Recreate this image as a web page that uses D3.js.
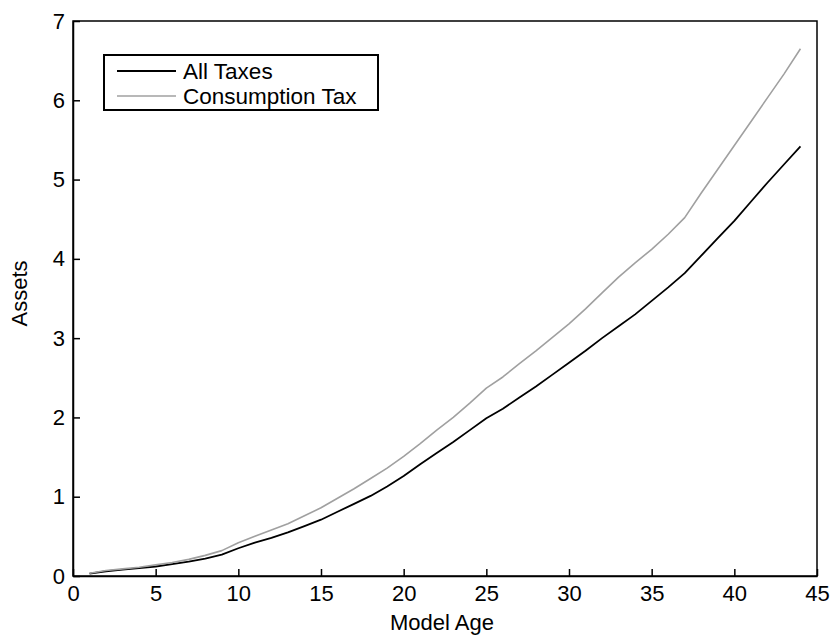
<!DOCTYPE html>
<html>
<head>
<meta charset="utf-8">
<script src="https://cdn.jsdelivr.net/npm/d3@7"></script>
<style>
  html, body { margin: 0; padding: 0; background: #fff; }
  svg { display: block; font-family: "Liberation Sans", Arial, Helvetica, sans-serif; }
</style>
</head>
<body>
<svg id="chart" width="834" height="637"></svg>
<script>
const ages = d3.range(1, 45);
const allTaxes = [0.03, 0.06, 0.08, 0.10, 0.12, 0.15, 0.18, 0.22, 0.27, 0.35,
  0.42, 0.48, 0.55, 0.63, 0.71, 0.81, 0.91, 1.01, 1.13, 1.26,
  1.41, 1.55, 1.69, 1.84, 1.99, 2.11, 2.25, 2.39, 2.54, 2.69,
  2.84, 3.00, 3.15, 3.30, 3.47, 3.64, 3.82, 4.04, 4.26, 4.48,
  4.72, 4.96, 5.19, 5.42];
const consumptionTax = [0.035, 0.07, 0.09, 0.11, 0.14, 0.17, 0.21, 0.26, 0.32, 0.42,
  0.50, 0.58, 0.66, 0.76, 0.86, 0.98, 1.10, 1.23, 1.36, 1.51,
  1.67, 1.84, 2.00, 2.18, 2.37, 2.51, 2.68, 2.84, 3.01, 3.18,
  3.37, 3.57, 3.77, 3.95, 4.12, 4.31, 4.52, 4.83, 5.13, 5.43,
  5.73, 6.03, 6.33, 6.65];
const xTicks = [0, 5, 10, 15, 20, 25, 30, 35, 40, 45];
const yTicks = [0, 1, 2, 3, 4, 5, 6, 7];
const seriesNames = ["All Taxes", "Consumption Tax"];
const seriesColors = ["#000000", "#a0a0a0"];
const xLabel = "Model Age";
const yLabel = "Assets";

const svg = d3.select("#chart");
const L = 73, R = 817, T = 21, B = 576;
const x = d3.scaleLinear().domain([0, 45]).range([L, R]);
const y = d3.scaleLinear().domain([0, 7]).range([B, T]);

// frame
svg.append("rect").attr("x", L).attr("y", T).attr("width", R - L).attr("height", B - T)
  .attr("fill", "none").attr("stroke", "#000").attr("stroke-width", 1.5);

const xAxis = svg.append("g").attr("transform", `translate(0,${B})`)
  .call(d3.axisBottom(x).tickValues(xTicks).tickFormat(d3.format("d"))
    .tickSizeInner(-7).tickSizeOuter(0).tickPadding(9));
const yAxis = svg.append("g").attr("transform", `translate(${L},0)`)
  .call(d3.axisLeft(y).tickValues(yTicks).tickFormat(d3.format("d"))
    .tickSizeInner(-7).tickSizeOuter(0).tickPadding(8));
[xAxis, yAxis].forEach(g => {
  g.select(".domain").attr("stroke", "#000").attr("stroke-width", 1.5);
  g.selectAll(".tick line").attr("stroke", "#000").attr("stroke-width", 1.5);
  g.selectAll(".tick text").attr("fill", "#000").style("font-size", "22px")
    .style("font-family", "'Liberation Sans', Arial, sans-serif");
});
xAxis.selectAll(".tick text").attr("dy", "0.71em");

const line = d3.line().x((d, i) => x(ages[i])).y(d => y(d));
[allTaxes, consumptionTax].forEach((s, k) => {
  svg.append("path").datum(s).attr("d", line).attr("fill", "none")
    .attr("stroke", seriesColors[k]).attr("stroke-width", k === 0 ? 1.8 : 1.6)
    .attr("stroke-linejoin", "round");
});

// axis labels
svg.append("text").attr("x", 442).attr("y", 630).attr("text-anchor", "middle")
  .style("font-size", "22px").text(xLabel);
svg.append("text").attr("transform", `translate(27,${(T + B) / 2 - 5}) rotate(-90)`)
  .attr("text-anchor", "middle").style("font-size", "22px").text(yLabel);

// legend
const lg = svg.append("g");
lg.append("rect").attr("x", 104).attr("y", 55).attr("width", 274).attr("height", 55)
  .attr("fill", "#fff").attr("stroke", "#000").attr("stroke-width", 2);
seriesNames.forEach((n, k) => {
  const yy = 71 + k * 25;
  lg.append("line").attr("x1", 117).attr("x2", 176).attr("y1", yy).attr("y2", yy)
    .attr("stroke", seriesColors[k]).attr("stroke-width", k === 0 ? 1.8 : 1.6);
  lg.append("text").attr("x", 183).attr("y", yy + 7.5).style("font-size", "22.5px").text(n);
});
</script>
</body>
</html>
